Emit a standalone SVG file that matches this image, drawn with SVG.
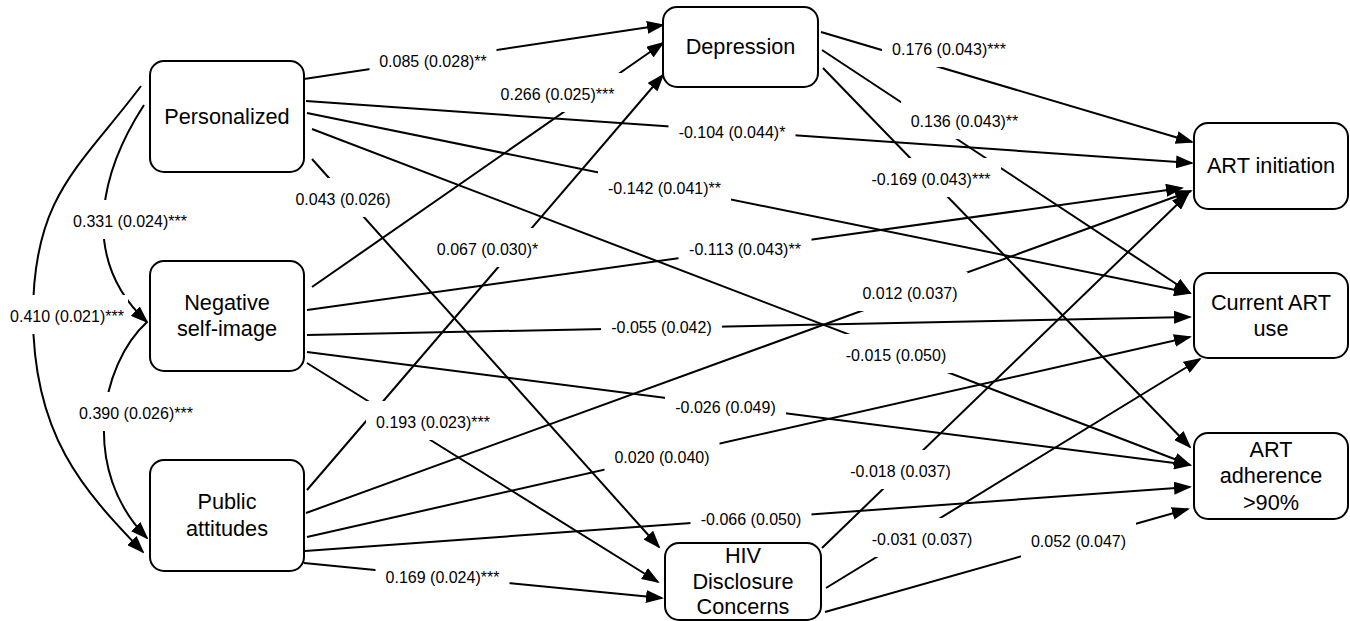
<svg xmlns="http://www.w3.org/2000/svg" width="1350" height="621" viewBox="0 0 1350 621">
<style>
.node rect{fill:#fff;stroke:#000;stroke-width:2}
.node text{font-family:"Liberation Sans",Arial,Helvetica,sans-serif;font-size:21.7px;text-anchor:middle;fill:#000}
.edges path{fill:none;stroke:#000;stroke-width:2;marker-end:url(#arr)}
.lbl rect{fill:#fff;stroke:none}
.lbl text{font-family:"Liberation Sans",Arial,Helvetica,sans-serif;font-size:16px;text-anchor:middle;fill:#000}
</style>
<defs>
<marker id="arr" markerUnits="userSpaceOnUse" markerWidth="18" markerHeight="13" refX="16" refY="6.5" orient="auto">
<path d="M0,0 L18,6.5 L0,13 Z" fill="#000"/>
</marker>
</defs>
<rect width="1350" height="621" fill="#fff"/>
<g class="edges" id="connectors">
<path d="M304,79 L663,25"/>
<path d="M306,101 L1192,163"/>
<path d="M307,113 L1190,293"/>
<path d="M312,129 L1190,465"/>
<path d="M312,159 L659,547"/>
<path d="M312,287 L663,43"/>
<path d="M307,310 L1182,188"/>
<path d="M307,335 L1190,317"/>
<path d="M307,352 L1190,465"/>
<path d="M307,363 L658,582"/>
<path d="M307,490 L663,75"/>
<path d="M306,513 L1191,191"/>
<path d="M307,537 L1190,337"/>
<path d="M305,551 L1190,487"/>
<path d="M304,563 L662,598"/>
<path d="M821,32 L1192,142"/>
<path d="M822,50 L1190,293"/>
<path d="M823,68 L1190,447"/>
<path d="M822,548 L1188,194"/>
<path d="M826,588 L1200,359"/>
<path d="M825,612 L1188,509"/>
<path d="M144,105 C105,165 75,255 147,322"/>
<path d="M147,322 C100,365 80,470 147,538"/>
<path d="M141,86 C81,166 33,195 33,315 C33,435 83,490 143,552"/>
</g>
<g class="lbl" id="labels">
<rect x="369.5" y="40" width="127" height="39"/><text x="433" y="67">0.085 (0.028)**</text>
<rect x="490.5" y="73" width="134" height="39"/><text x="557.5" y="100">0.266 (0.025)***</text>
<rect x="668.5" y="111" width="127" height="39"/><text x="732" y="138">-0.104 (0.044)*</text>
<rect x="598" y="167" width="133" height="39"/><text x="664.5" y="194">-0.142 (0.041)**</text>
<rect x="882" y="28" width="134" height="39"/><text x="949" y="55">0.176 (0.043)***</text>
<rect x="901" y="100" width="127" height="39"/><text x="964.5" y="127">0.136 (0.043)**</text>
<rect x="861" y="158" width="140" height="39"/><text x="931" y="185">-0.169 (0.043)***</text>
<rect x="285.5" y="178" width="115" height="39"/><text x="343" y="205">0.043 (0.026)</text>
<rect x="63" y="200" width="134" height="39"/><text x="130" y="227">0.331 (0.024)***</text>
<rect x="2" y="295" width="126" height="39"/><text x="67" y="322">0.410 (0.021)***</text>
<rect x="427" y="228" width="121" height="39"/><text x="487.5" y="255">0.067 (0.030)*</text>
<rect x="678.5" y="228" width="133" height="39"/><text x="745" y="255">-0.113 (0.043)**</text>
<rect x="852.5" y="272" width="115" height="39"/><text x="910" y="299">0.012 (0.037)</text>
<rect x="601" y="306" width="121" height="39"/><text x="661.5" y="333">-0.055 (0.042)</text>
<rect x="835.5" y="334" width="121" height="39"/><text x="896" y="361">-0.015 (0.050)</text>
<rect x="665" y="386" width="121" height="39"/><text x="725.5" y="413">-0.026 (0.049)</text>
<rect x="69" y="392" width="134" height="39"/><text x="136" y="419">0.390 (0.026)***</text>
<rect x="366" y="401" width="134" height="39"/><text x="433" y="428">0.193 (0.023)***</text>
<rect x="604.5" y="436" width="115" height="39"/><text x="662" y="463">0.020 (0.040)</text>
<rect x="840" y="450" width="121" height="39"/><text x="900.5" y="477">-0.018 (0.037)</text>
<rect x="690.5" y="498" width="121" height="39"/><text x="751" y="525">-0.066 (0.050)</text>
<rect x="861.5" y="518" width="121" height="39"/><text x="922" y="545">-0.031 (0.037)</text>
<rect x="375.5" y="556" width="134" height="39"/><text x="442.5" y="583">0.169 (0.024)***</text>
<rect x="1021" y="520" width="115" height="39"/><text x="1078.5" y="547">0.052 (0.047)</text>
</g>
<g class="node" id="personalized"><rect x="150" y="61" width="154" height="111" rx="14"/><text x="227" y="124">Personalized</text></g>
<g class="node" id="negative-self-image"><rect x="150" y="261" width="154" height="110" rx="14"/><text x="227" y="310">Negative</text><text x="227" y="336">self-image</text></g>
<g class="node" id="public-attitudes"><rect x="150" y="460" width="154" height="111" rx="14"/><text x="227" y="509">Public</text><text x="227" y="536">attitudes</text></g>
<g class="node" id="depression"><rect x="663" y="7" width="155" height="80" rx="14"/><text x="740.5" y="54">Depression</text></g>
<g class="node" id="hiv-disclosure"><rect x="665" y="543" width="156" height="77" rx="14"/><text x="743" y="563">HIV</text><text x="743" y="589">Disclosure</text><text x="743" y="614">Concerns</text></g>
<g class="node" id="art-initiation"><rect x="1194" y="123" width="154" height="86" rx="14"/><text x="1271" y="173">ART initiation</text></g>
<g class="node" id="current-art-use"><rect x="1194" y="273" width="154" height="85" rx="14"/><text x="1271" y="310">Current ART</text><text x="1271" y="336">use</text></g>
<g class="node" id="art-adherence"><rect x="1194" y="433" width="154" height="86" rx="14"/><text x="1271" y="457">ART</text><text x="1271" y="483">adherence</text><text x="1271" y="510">&gt;90%</text></g>
</svg>
